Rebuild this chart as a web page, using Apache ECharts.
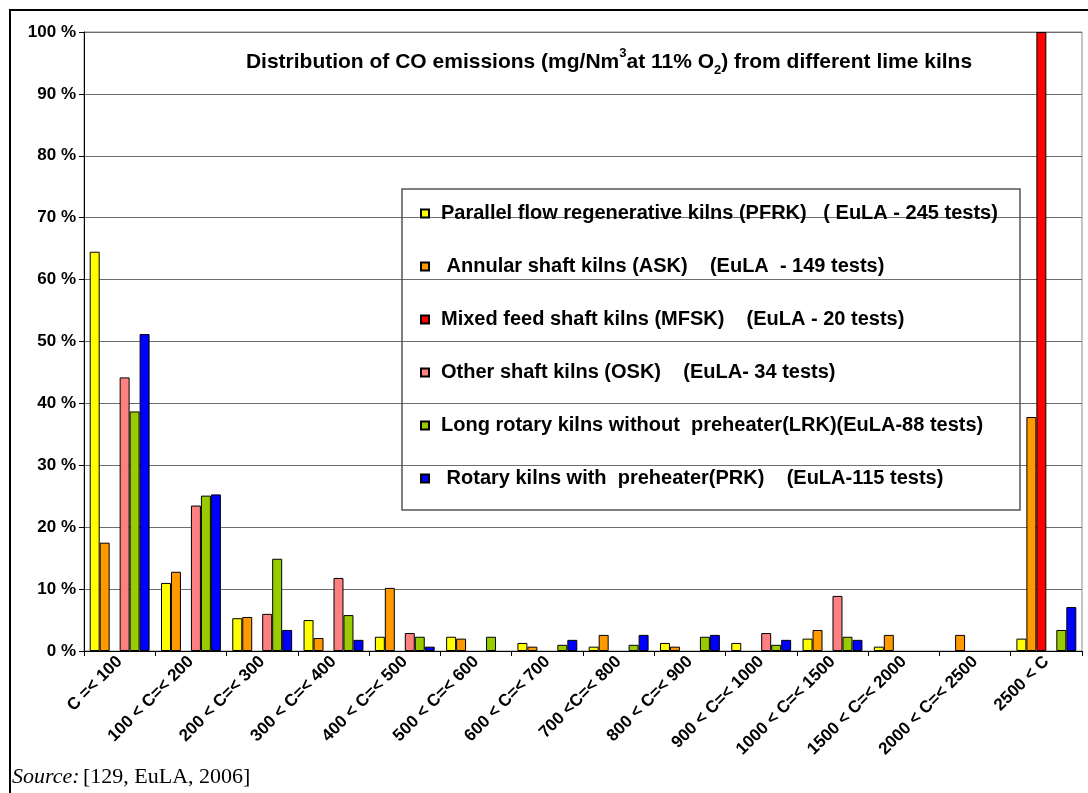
<!DOCTYPE html>
<html><head><meta charset="utf-8">
<script src="https://cdn.jsdelivr.net/npm/echarts@6/dist/echarts.min.js"></script>
<style>html,body{margin:0;padding:0;background:#fff}#c{width:1088px;height:793px}</style>
</head><body><div id="c"></div>
<script>
const categories = ['C =< 100','100 < C=< 200','200 < C=< 300','300 < C=< 400','400 < C=< 500','500 < C=< 600','600 < C=< 700','700 <C=< 800','800 < C=< 900','900 < C=< 1000','1000 < C=< 1500','1500 < C=< 2000','2000 < C=< 2500','2500 < C'];
const seriesNames = [
  'Parallel flow regenerative kilns (PFRK)   ( EuLA - 245 tests)',
  ' Annular shaft kilns (ASK)    (EuLA  - 149 tests)',
  'Mixed feed shaft kilns (MFSK)    (EuLA - 20 tests)',
  'Other shaft kilns (OSK)    (EuLA- 34 tests)',
  'Long rotary kilns without  preheater(LRK)(EuLA-88 tests)',
  ' Rotary kilns with  preheater(PRK)    (EuLA-115 tests)'
];
const seriesColors = ['#FFFF00','#FF9900','#FF0000','#FF8080','#99CC00','#0000FF'];
const pfrk = [64.5, 11.0, 5.3, 5.0, 2.3, 2.3, 1.3, 0.7, 1.3, 1.3, 2.0, 0.7, 0, 2.0];
const ask  = [17.5, 12.8, 5.5, 2.1, 10.2, 2.0, 0.7, 2.6, 0.7, 0, 3.4, 2.6, 2.6, 37.8];
const mfsk = [0, 0, 0, 0, 0, 0, 0, 0, 0, 0, 0, 0, 0, 100];
const osk  = [44.2, 23.5, 6.0, 11.8, 2.9, 0, 0, 0, 0, 2.9, 8.9, 0, 0, 0];
const lrk  = [38.7, 25.1, 14.9, 5.8, 2.3, 2.3, 1.0, 1.0, 2.3, 1.0, 2.3, 0, 0, 3.4];
const prk  = [51.2, 25.3, 3.4, 1.8, 0.7, 0, 1.8, 2.6, 2.6, 1.8, 1.8, 0, 0, 7.1];
const allSeries = [pfrk, ask, mfsk, osk, lrk, prk];
const yMin = 0, yMax = 100, yStep = 10;

const chart = echarts.init(document.getElementById('c'), null, {renderer:'canvas'});
const FONT = 'Arial, "Liberation Sans", sans-serif';
const SERIF = '"Liberation Serif", "Times New Roman", serif';
chart.setOption({
  animation: false,
  backgroundColor: '#fff',
  grid: {left: 84, right: 6, top: 32, bottom: 142, show: true, borderColor: '#8a8a8a', borderWidth: 1},
  legend: {
    orient: 'vertical', left: 420, top: 201.5, padding: 0, itemGap: 29,
    itemWidth: 8, itemHeight: 8, icon: 'rect',
    data: seriesNames,
    textStyle: {fontFamily: FONT, fontWeight: 'bold', fontSize: 20, color: '#000', lineHeight: 24, padding: [0,0,0,7]}
  },
  xAxis: {
    type: 'category', data: categories,
    axisLine: {lineStyle: {color: '#000', width: 1}},
    axisTick: {show: true, length: 5, lineStyle: {color: '#000'}},
    axisLabel: {rotate: 45, interval: 0, margin: 8, fontFamily: FONT, fontWeight: 'bold', fontSize: 17, color: '#000'}
  },
  yAxis: {
    type: 'value', min: yMin, max: yMax, interval: yStep,
    axisLine: {show: true, lineStyle: {color: '#000', width: 1}},
    axisTick: {show: true, length: 5, lineStyle: {color: '#000'}},
    axisLabel: {formatter: '{value} %', margin: 8, fontFamily: FONT, fontWeight: 'bold', fontSize: 17, color: '#000'},
    splitLine: {lineStyle: {color: '#6e6e6e', width: 1}}
  },
  series: allSeries.map((arr, i) => ({
    name: seriesNames[i], type: 'bar',
    data: arr.map(v => v === 0 ? '-' : v),
    barGap: '0%', barCategoryGap: '16%',
    itemStyle: {color: seriesColors[i], borderColor: '#000', borderWidth: 1}
  })),
  graphic: [
    {type: 'rect', shape: {x: 402, y: 189, width: 618, height: 321}, style: {fill: 'none', stroke: '#555', lineWidth: 1.5}, z: 1},
    {type: 'line', shape: {x1: 10, y1: 10, x2: 10, y2: 793}, style: {stroke: '#000', lineWidth: 2}},
    {type: 'line', shape: {x1: 9, y1: 10, x2: 1088, y2: 10}, style: {stroke: '#000', lineWidth: 2}},
    {type: 'text', x: 609, y: 47, style: {
      text: '{a|Distribution of CO emissions (mg/Nm}{s|3}{a|at 11% O}{d|2}{a|) from different lime kilns}',
      align: 'center',
      rich: {
        a: {fontFamily: FONT, fontWeight: 'bold', fontSize: 21, lineHeight: 30, fill: '#000'},
        s: {fontFamily: FONT, fontWeight: 'bold', fontSize: 13, lineHeight: 20, verticalAlign: 'top', fill: '#000'},
        d: {fontFamily: FONT, fontWeight: 'bold', fontSize: 13, lineHeight: 20, verticalAlign: 'bottom', fill: '#000'}
      }
    }},
    {type: 'text', x: 12, y: 766, style: {
      text: '{i|Source:} {n|[129, EuLA, 2006]}',
      rich: {
        i: {fontFamily: SERIF, fontStyle: 'italic', fontSize: 22, fill: '#000'},
        n: {fontFamily: SERIF, fontSize: 22, fill: '#000'}
      }
    }}
  ]
});
</script></body></html>
